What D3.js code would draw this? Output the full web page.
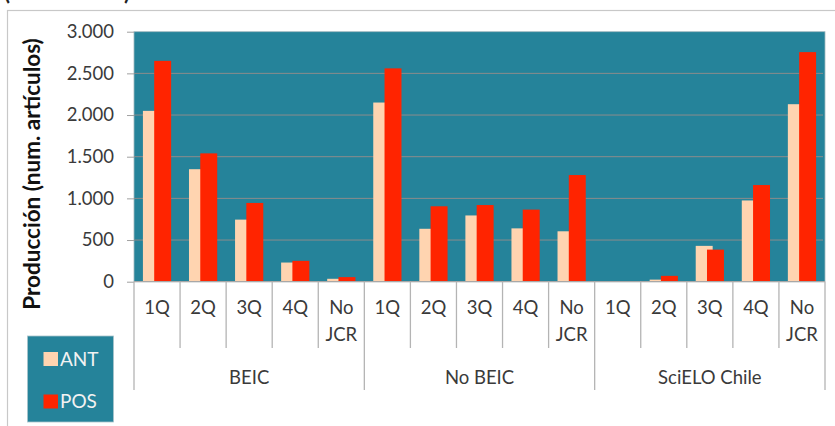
<!DOCTYPE html>
<html>
<head>
<meta charset="utf-8">
<script src="https://cdn.jsdelivr.net/npm/d3@7"></script>
<style>
  html, body { margin: 0; padding: 0; background: #fff; }
  svg { display: block; font-family: Lato, "Open Sans", sans-serif; }
</style>
</head>
<body>
<svg id="chart" width="835" height="426"></svg>
<script>
// Production data: articles per journal quartile, before (ANT) and after (POS)
const groups = ["BEIC", "No BEIC", "SciELO Chile"];
const quartiles = ["1Q", "2Q", "3Q", "4Q", "No JCR"];
const antValues = [2050, 1350, 745, 230, 35,   2150, 635, 795, 640, 605,   0, 25, 430, 975, 2130];
const posValues = [2650, 1540, 945, 250, 55,   2560, 905, 920, 865, 1280,  0, 70, 385, 1160, 2755];
const yTicks = [0, 500, 1000, 1500, 2000, 2500, 3000];
const seriesNames = ["ANT", "POS"];
const seriesColors = ["#ffd4b0", "#ff2400"];

const svg = d3.select("#chart");
const teal = "#25839a";
const textColor = "#3a3a3a";

const plot = { left: 134, right: 825, top: 31.7, bottom: 281.7 };

// One band per (group, quartile) cell
const cells = [];
groups.forEach((g, gi) => quartiles.forEach((q, qi) => {
  const i = gi * quartiles.length + qi;
  cells.push({ group: g, quartile: q, index: i, ant: antValues[i], pos: posValues[i] });
}));

const x = d3.scaleBand().domain(cells.map(d => d.index)).range([plot.left, plot.right]).padding(0);
const y = d3.scaleLinear().domain([0, 3000]).range([plot.bottom, plot.top]);

// Outer chart frame
svg.append("rect")
  .attr("x", 7.5).attr("y", 10.5).attr("width", 840).attr("height", 430)
  .attr("fill", "none").attr("stroke", "#c8c8c8").attr("stroke-width", 1.2);

// Parentheses of the title line above the frame
svg.append("text").attr("x", 4).attr("y", 0).attr("font-size", 22).attr("font-weight", "bold")
  .attr("fill", "#222").text("(");
svg.append("text").attr("x", 124).attr("y", 0).attr("font-size", 22).attr("font-weight", "bold")
  .attr("fill", "#222").text(")");

// Plot background
svg.append("rect")
  .attr("x", plot.left).attr("y", plot.top)
  .attr("width", plot.right - plot.left).attr("height", plot.bottom - plot.top)
  .attr("fill", teal).attr("stroke", "#9fb8bf").attr("stroke-width", 0.8);

// Horizontal gridlines
svg.append("g").selectAll("line")
  .data(yTicks.filter(t => t > 0 && t < 3000))
  .join("line")
  .attr("x1", plot.left).attr("x2", plot.right - 2)
  .attr("y1", d => y(d)).attr("y2", d => y(d))
  .attr("stroke", "#8c8c8c").attr("stroke-width", 1);

// Y axis
const yAxis = svg.append("g").attr("transform", `translate(${plot.left},0)`)
  .call(d3.axisLeft(y).tickValues(yTicks).tickSize(7).tickPadding(13)
    .tickFormat(d => d3.format(",")(d).replace(/,/g, ".")));
yAxis.select(".domain").remove();
yAxis.selectAll(".tick line").attr("stroke", "#a0a0a0");
yAxis.selectAll(".tick text").attr("fill", textColor).attr("font-size", 18.5)
  .attr("font-family", "Lato, sans-serif");

// Y axis title
svg.append("text")
  .attr("transform", `translate(39.5,174) rotate(-90)`)
  .attr("text-anchor", "middle")
  .attr("font-size", 22.5).attr("font-weight", "bold").attr("fill", "#111")
  .text("Producción (num. artículos)");

// Bars: two overlapping series per band
const bw = x.bandwidth();
const barW = bw * 0.368;
const step = barW * 0.665;
const total = barW + step;
const off = (bw - total) / 2;

const bars = svg.append("g");
[ "ant", "pos" ].forEach((key, si) => {
  bars.append("g").selectAll("rect")
    .data(cells)
    .join("rect")
    .attr("x", d => x(d.index) + off + si * step)
    .attr("y", d => y(d[key]))
    .attr("width", barW)
    .attr("height", d => y(0) - y(d[key]))
    .attr("fill", seriesColors[si]);
});

// X axis baseline
svg.append("line")
  .attr("x1", plot.left).attr("x2", plot.right)
  .attr("y1", plot.bottom).attr("y2", plot.bottom)
  .attr("stroke", "#a8a8a8").attr("stroke-width", 1.2);

// Separators between quartile cells and between groups
const sepG = svg.append("g").attr("stroke", "#b4b4b4").attr("stroke-width", 1.3);
d3.range(cells.length + 1).forEach(i => {
  const xs = i < cells.length ? x(i) : plot.right;
  const isGroup = i % quartiles.length === 0;
  sepG.append("line")
    .attr("x1", xs).attr("x2", xs)
    .attr("y1", plot.bottom).attr("y2", isGroup ? 390 : 348);
});

// Quartile labels
const catG = svg.append("g").attr("fill", textColor).attr("font-size", 18.5).attr("text-anchor", "middle");
cells.forEach(d => {
  const cx = x(d.index) + bw / 2;
  const lines = d.quartile === "No JCR" ? ["No", "JCR"] : [d.quartile];
  lines.forEach((t, li) => {
    catG.append("text").attr("x", cx).attr("y", 314 + li * 27).text(t);
  });
});

// Group labels
svg.append("g").attr("fill", textColor).attr("font-size", 18.5).attr("text-anchor", "middle")
  .selectAll("text").data(groups).join("text")
  .attr("x", (g, gi) => (x(gi * quartiles.length) + (gi < groups.length - 1 ? x((gi + 1) * quartiles.length) : plot.right)) / 2)
  .attr("y", 384)
  .text(g => g);

// Legend
const leg = svg.append("g");
leg.append("rect")
  .attr("x", 27.5).attr("y", 336).attr("width", 86).attr("height", 86)
  .attr("fill", teal).attr("stroke", "#a9c4cb").attr("stroke-width", 0.8);
seriesNames.forEach((name, i) => {
  const yy = 352 + i * 42.5;
  leg.append("rect").attr("x", 43.5).attr("y", yy).attr("width", 14.5).attr("height", 14)
    .attr("fill", seriesColors[i]);
  leg.append("text").attr("x", 60).attr("y", yy + 13.5)
    .attr("font-size", 19).attr("fill", "#f2f2f2").text(name);
});
</script>
</body>
</html>
